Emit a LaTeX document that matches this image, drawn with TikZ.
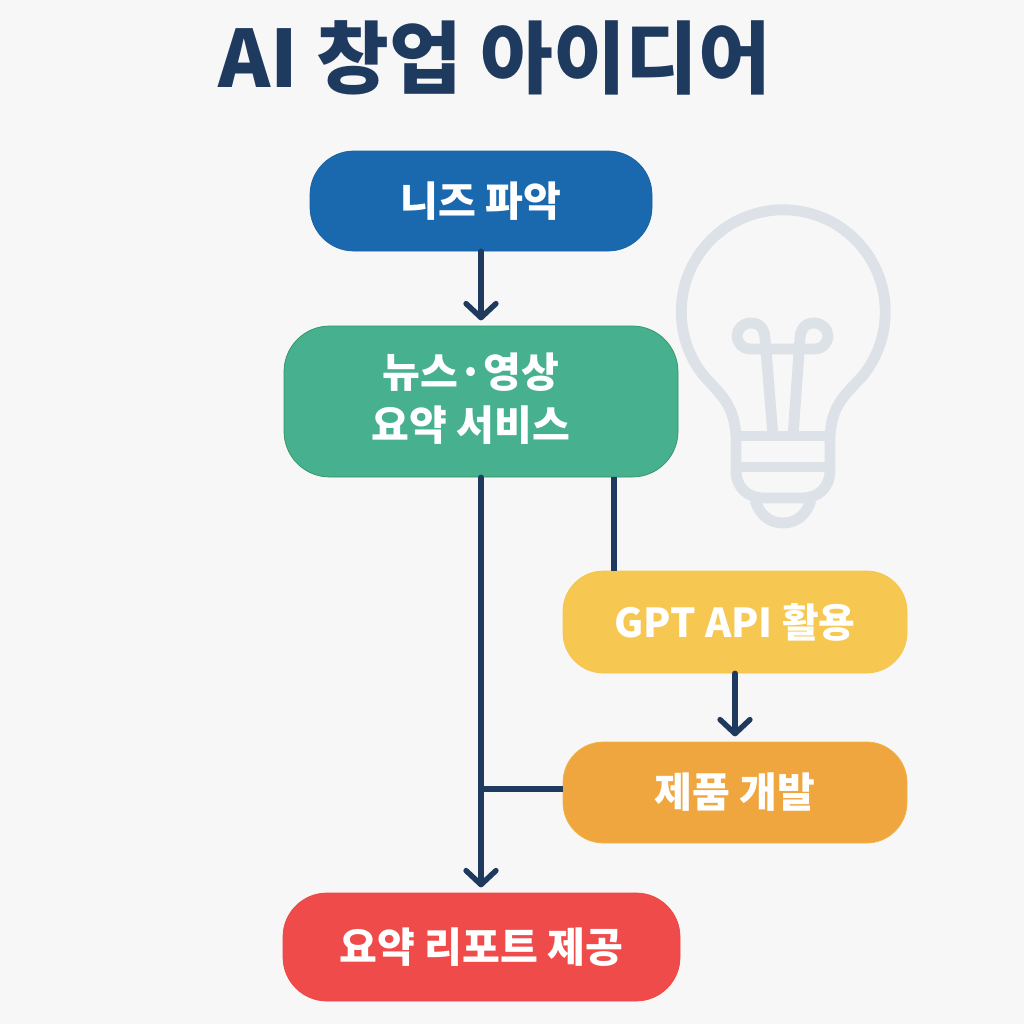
\documentclass[tikz,border=0pt]{standalone}
\usepackage{fontspec}
\setmainfont{Noto Sans CJK KR}
\usetikzlibrary{arrows.meta}
\definecolor{navy}{HTML}{1F3A5F}
\definecolor{paper}{HTML}{F7F7F7}
\definecolor{bulbgray}{HTML}{DDE2E8}
\definecolor{needblue}{HTML}{1A69AF}
\definecolor{servicegreen}{HTML}{46B08F}
\definecolor{apiyellow}{HTML}{F6C851}
\definecolor{devorange}{HTML}{EFA63F}
\definecolor{reportred}{HTML}{EF4B4B}
\tikzset{
  stepbox/.style={rounded corners=#1, align=center, text=white, inner sep=0pt,
    font=\fontsize{23.4}{30}\selectfont\bfseries},
  link/.style={draw=navy, line width=3.1pt},
  linkarrow/.style={link, line cap=round, -{Straight Barb[round, length=8pt, width=17pt, line width=3.1pt]}},
  bulbline/.style={draw=bulbgray, line width=6.2pt, line join=round}
}
\begin{document}
\begin{tikzpicture}[x=0.02cm, y=-0.02cm]
  \fill[paper] (0,0) rectangle (1024,1024);
  \useasboundingbox (0,0) rectangle (1024,1024);
  \node[text=navy, font=\fontsize{45}{50}\selectfont\bfseries] (title) at (495,58) {AI 창업 아이디어};
  % bulb
  \draw[bulbline] (736,436) .. controls (734,405) and (722,396) .. (704,376)
    arc[start angle=219, end angle=-39, x radius=102, y radius=-102]
    .. controls (844,396) and (832,405) .. (830,436);
  \draw[bulbline] (736,436) -- (830,436) (736,467) -- (830,467);
  \draw[bulbline] (736,436) -- (736,470) .. controls (736,488) and (748,498) .. (764,498)
    -- (802,498) .. controls (818,498) and (830,488) .. (830,470) -- (830,436);
  \draw[bulbline] (755,500) .. controls (759,514) and (769,523) .. (783,523)
    .. controls (797,523) and (807,514) .. (811,500);
  \draw[bulbline] (767,349) -- (751,349) .. controls (741,349) and (737,341) .. (737,336)
    .. controls (737,329) and (743,323) .. (751,323)
    .. controls (761,323) and (765,331) .. (765,338) -- (773,436);
  \draw[bulbline] (767,349) -- (814,349) .. controls (824,349) and (828,341) .. (828,336)
    .. controls (828,329) and (822,323) .. (814,323)
    .. controls (804,323) and (800,331) .. (800,338) -- (793,436);
  % boxes
  \node[stepbox=25pt, fill=needblue, draw=needblue!92!black,
    minimum width=342*0.02cm, minimum height=100*0.02cm] (need) at (481,201) {니즈 파악};
  \node[stepbox=26pt, fill=servicegreen, draw=servicegreen!85!green!80!black,
    minimum width=394*0.02cm, minimum height=151*0.02cm] (service) at (481,401.5) {};
  \node[stepbox=23pt] (servicetext) at (471,399) {뉴스·영상\\요약 서비스};
  \node[stepbox=23pt, fill=apiyellow, draw=apiyellow!95!orange, font=\fontsize{22.7}{30}\selectfont\bfseries,
    minimum width=344*0.02cm, minimum height=102*0.02cm] (api) at (735,622) {GPT API 활용};
  \node[stepbox=23pt, fill=devorange, draw=apiyellow!40!devorange,
    minimum width=344*0.02cm, minimum height=101*0.02cm] (dev) at (735,792.5) {제품 개발};
  \node[stepbox=25pt, fill=reportred, draw=reportred!90!red,
    minimum width=397*0.02cm, minimum height=108*0.02cm] (report) at (481.5,947) {요약 리포트 제공};
  % connectors
  \coordinate (branch) at (614,477);
  \coordinate (merge) at (481,789);
  \draw[linkarrow, shorten >=3pt] (need) -- (service);
  \draw[link] (branch) -- (branch |- api.north);
  \draw[linkarrow, shorten >=3pt] (api) -- (dev);
  \draw[link] (dev.west |- merge) -- (merge);
  \draw[linkarrow, shorten >=3pt] (service) -- (service |- report.north);
\end{tikzpicture}
\end{document}
